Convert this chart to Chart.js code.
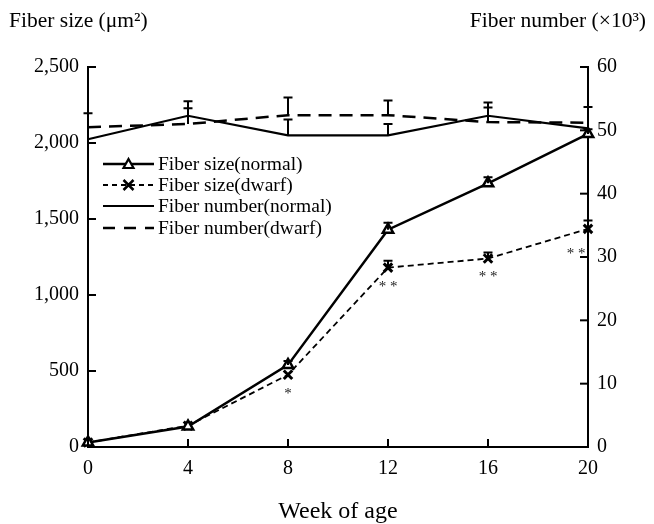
<!DOCTYPE html>
<html><head><meta charset="utf-8">
<script src="https://cdn.jsdelivr.net/npm/chart.js@4/dist/chart.umd.min.js"></script>
<style>html,body{margin:0;padding:0;background:#fff;}#wrap{width:654px;height:524px;}</style>
</head><body><div id="wrap"><canvas id="c" width="654" height="524"></canvas></div>
<script>
const weeks = [0, 4, 8, 12, 16, 20];
const sizeNormal = [30, 135, 540, 1430, 1735, 2060];
const sizeDwarf = [30, 140, 475, 1180, 1240, 1435];
const numNormal = [48.6, 52.3, 49.2, 49.2, 52.3, 50.3];
const numDwarf = [50.5, 51.0, 52.4, 52.4, 51.3, 51.2];
const sizeNormalErr = [0, 0, 25, 45, 40, 30];
const sizeDwarfErr = [0, 0, 0, 45, 40, 55];
const numNormalErr = [0, 2.3, 2.5, 1.8, 2.1, 0];
const numDwarfErr = [2.2, 2.5, 2.8, 2.3, 2.3, 2.5];
const signif = ['', '', '*', '**', '**', '**'];
const leftTicks = [0, 500, 1000, 1500, 2000, 2500];
const rightTicks = [0, 10, 20, 30, 40, 50, 60];
const legendLabels = ['Fiber size(normal)', 'Fiber size(dwarf)', 'Fiber number(normal)', 'Fiber number(dwarf)'];

const SERIF = '"Liberation Serif", "DejaVu Serif", serif';
const pts = (xs, ys) => xs.map((x, i) => ({x: x, y: ys[i]}));

const datasets = [
  {label: legendLabels[0], data: pts(weeks, sizeNormal), yAxisID: 'yL', borderColor: '#000', borderWidth: 2.5,
   pointStyle: 'triangle', pointRadius: 6, pointBackgroundColor: '#fff', pointBorderColor: '#000', pointBorderWidth: 2.5, clip: false, errs: sizeNormalErr},
  {label: legendLabels[1], data: pts(weeks, sizeDwarf), yAxisID: 'yL', borderColor: '#000', borderWidth: 1.8, borderDash: [6, 4],
   pointStyle: 'crossRot', pointRadius: 6, pointBorderColor: '#000', pointBorderWidth: 3, clip: false, errs: sizeDwarfErr},
  {label: legendLabels[2], data: pts(weeks, numNormal), yAxisID: 'yR', borderColor: '#000', borderWidth: 2.2,
   pointRadius: 0, clip: false, errs: numNormalErr},
  {label: legendLabels[3], data: pts(weeks, numDwarf), yAxisID: 'yR', borderColor: '#000', borderWidth: 2.5, borderDash: [13, 8],
   pointRadius: 0, clip: false, errs: numDwarfErr}
];

const extras = {
  id: 'extras',
  afterDatasetsDraw(chart) {
    const ctx = chart.ctx;
    const xs = chart.scales.x, yL = chart.scales.yL, yR = chart.scales.yR;
    const area = chart.chartArea;
    ctx.save();
    ctx.strokeStyle = '#000';
    ctx.lineWidth = 2;
    ctx.setLineDash([]);
    // error bars (upper)
    chart.data.datasets.forEach(ds => {
      const sc = ds.yAxisID === 'yL' ? yL : yR;
      ds.data.forEach((p, i) => {
        const e = ds.errs[i];
        if (!e) return;
        const px = xs.getPixelForValue(p.x);
        const py = sc.getPixelForValue(p.y);
        const pe = sc.getPixelForValue(p.y + e);
        ctx.beginPath();
        ctx.moveTo(px, py); ctx.lineTo(px, pe);
        ctx.moveTo(px - 4.5, pe); ctx.lineTo(px + 4.5, pe);
        ctx.stroke();
      });
    });
    // inward ticks
    ctx.lineWidth = 2;
    leftTicks.forEach(v => { const y = yL.getPixelForValue(v); ctx.beginPath(); ctx.moveTo(area.left, y); ctx.lineTo(area.left + 8, y); ctx.stroke(); });
    rightTicks.forEach(v => { const y = yR.getPixelForValue(v); ctx.beginPath(); ctx.moveTo(area.right, y); ctx.lineTo(area.right - 8, y); ctx.stroke(); });
    weeks.forEach(v => { const x = xs.getPixelForValue(v); ctx.beginPath(); ctx.moveTo(x, area.bottom); ctx.lineTo(x, area.bottom - 8); ctx.stroke(); });
    // significance marks
    ctx.fillStyle = '#222';
    ctx.font = '15px ' + SERIF;
    ctx.textAlign = 'center';
    ctx.textBaseline = 'middle';
    signif.forEach((s, i) => {
      if (!s) return;
      let x = xs.getPixelForValue(weeks[i]);
      let y = yL.getPixelForValue(sizeDwarf[i]);
      if (i === weeks.length - 1) { x -= 12; y += 25; } else { y += 19; }
      ctx.fillText(s.split('').join(' '), x, y);
    });
    // legend
    const lx0 = 103, lx1 = 154, tx = 158;
    const rows = [164, 185, 206, 228];
    ctx.font = '19.5px ' + SERIF;
    ctx.textAlign = 'left';
    ctx.fillStyle = '#000';
    chart.data.datasets.forEach((ds, i) => {
      const y = rows[i];
      ctx.save();
      ctx.lineWidth = ds.borderWidth;
      ctx.setLineDash(i === 1 ? [5, 4] : (i === 3 ? [12, 9] : []));
      ctx.beginPath(); ctx.moveTo(lx0, y); ctx.lineTo(lx1, y); ctx.stroke();
      ctx.restore();
      const cx = (lx0 + lx1) / 2;
      if (i === 0) {
        ctx.save(); ctx.fillStyle = '#fff'; ctx.lineWidth = 2.2;
        ctx.beginPath(); ctx.moveTo(cx, y - 5); ctx.lineTo(cx + 5, y + 4); ctx.lineTo(cx - 5, y + 4); ctx.closePath(); ctx.fill(); ctx.stroke(); ctx.restore();
      } else if (i === 1) {
        ctx.save(); ctx.lineWidth = 2.5;
        ctx.beginPath(); ctx.moveTo(cx - 5, y - 5); ctx.lineTo(cx + 5, y + 5); ctx.moveTo(cx + 5, y - 5); ctx.lineTo(cx - 5, y + 5); ctx.stroke(); ctx.restore();
      }
      ctx.fillText(legendLabels[i], tx, y + 1);
    });
    // axis titles
    ctx.font = '21.5px ' + SERIF;
    ctx.textBaseline = 'alphabetic';
    ctx.textAlign = 'left';
    ctx.fillText('Fiber size (\u03bcm\u00b2)', 9, 27);
    ctx.textAlign = 'right';
    ctx.fillText('Fiber number (\u00d710\u00b3)', 646, 27);
    ctx.font = '24px ' + SERIF;
    ctx.textAlign = 'center';
    ctx.fillText('Week of age', (area.left + area.right) / 2, 518);
    ctx.restore();
  }
};

new Chart(document.getElementById('c'), {
  type: 'line',
  data: {datasets: datasets},
  options: {
    responsive: false,
    animation: false,
    layout: {padding: {top: 67, left: 0, right: 0, bottom: 0}},
    plugins: {legend: {display: false}, tooltip: {enabled: false}},
    scales: {
      x: {type: 'linear', min: 0, max: 20,
          afterBuildTicks: s => { s.ticks = weeks.map(v => ({value: v})); },
          grid: {display: false, drawTicks: false},
          border: {display: true, color: '#000', width: 2},
          ticks: {color: '#000', font: {family: SERIF, size: 20}, padding: 10},
          afterFit: s => { s.height = 77; }},
      yL: {type: 'linear', position: 'left', min: 0, max: 2500,
           afterBuildTicks: s => { s.ticks = leftTicks.map(v => ({value: v})); },
           grid: {display: false, drawTicks: false},
           border: {display: true, color: '#000', width: 2},
           ticks: {color: '#000', font: {family: SERIF, size: 20}, padding: 9,
                   callback: v => v.toLocaleString('en-US')},
           afterFit: s => { s.width = 88; }},
      yR: {type: 'linear', position: 'right', min: 0, max: 60,
           afterBuildTicks: s => { s.ticks = rightTicks.map(v => ({value: v})); },
           grid: {display: false, drawTicks: false},
           border: {display: true, color: '#000', width: 2},
           ticks: {color: '#000', font: {family: SERIF, size: 20}, padding: 9},
           afterFit: s => { s.width = 66; }}
    }
  },
  plugins: [extras]
});
</script></body></html>
